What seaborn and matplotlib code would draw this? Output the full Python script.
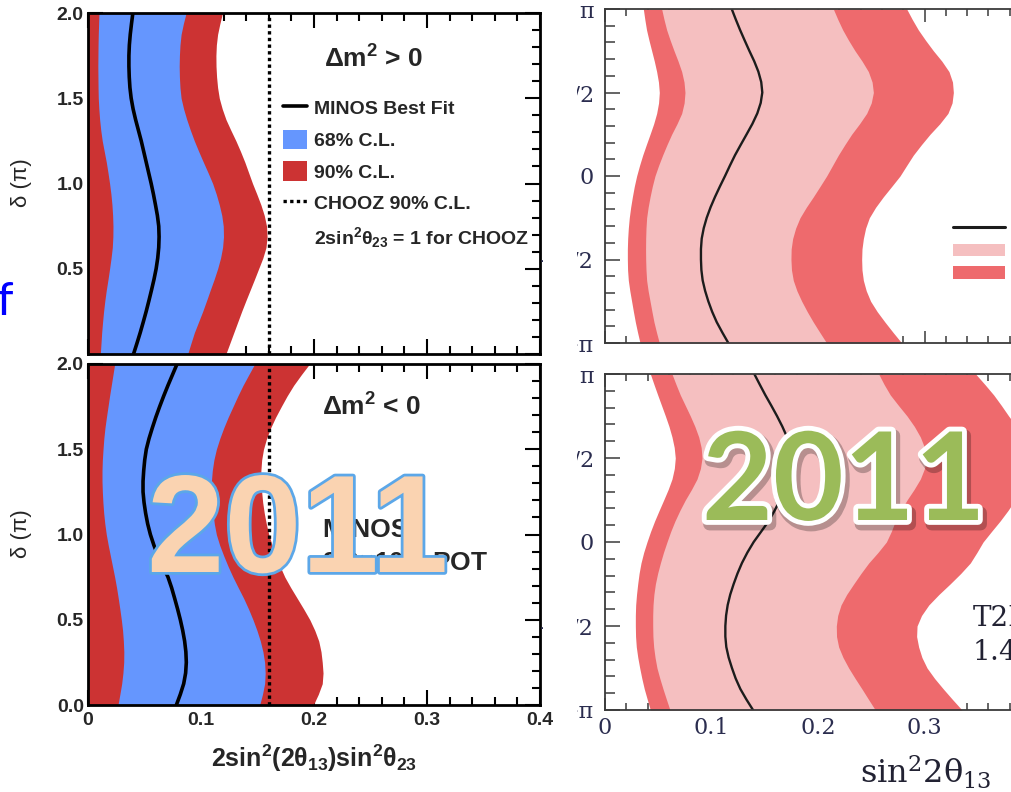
import numpy as np
import matplotlib
matplotlib.use("Agg")
import matplotlib.pyplot as plt
import matplotlib.patheffects as pe
from matplotlib.lines import Line2D
from matplotlib.patches import Patch, Rectangle
from matplotlib.ticker import MultipleLocator
import seaborn as sns

# ---------------- MINOS: delta_CP (units of pi) vs 2 sin^2(2th13) sin^2(th23) ----------------
minos_delta = [2.0, 1.9375, 1.875, 1.8125, 1.75, 1.6875, 1.625, 1.5625, 1.5, 1.4375,
               1.375, 1.3125, 1.25, 1.1875, 1.125, 1.0625, 1.0, 0.9375, 0.875, 0.8125,
               0.75, 0.6875, 0.625, 0.5625, 0.5, 0.4375, 0.375, 0.3125, 0.25, 0.1875,
               0.125, 0.0625, 0.0]

# normal hierarchy (dm2 > 0)
nh_68_lo = [.0097, .0094, .0091, .0089, .0088, .0087, .0088, .0089, .0091, .0096,
            .0103, .0113, .0126, .0144, .0162, .0177, .0191, .0203, .0212, .0218,
            .0221, .0220, .0215, .0204, .0191, .0177, .0162, .0149, .0138, .0129,
            .0121, .0115, .0109]
nh_68_hi = [.0868, .0844, .0824, .0814, .0809, .0807, .0809, .0814, .0824, .0846,
            .0874, .0906, .0941, .0980, .1021, .1063, .1103, .1135, .1162, .1184,
            .1197, .1199, .1191, .1173, .1147, .1116, .1082, .1049, .1015, .0978,
            .0941, .0911, .0882]
nh_90_hi = [.1190, .1167, .1147, .1136, .1132, .1133, .1138, .1147, .1162, .1188,
            .1221, .1264, .1309, .1350, .1388, .1422, .1456, .1494, .1530, .1560,
            .1580, .1585, .1575, .1547, .1510, .1473, .1435, .1397, .1360, .1325,
            .1290, .1255, .1220]
nh_best = [.0397, .0385, .0374, .0366, .0362, .0362, .0365, .0371, .0382, .0399,
           .0421, .0446, .0471, .0493, .0515, .0537, .0559, .0579, .0597, .0614,
           .0626, .0629, .0626, .0617, .0603, .0584, .0562, .0539, .0515, .0489,
           .0462, .0433, .0403]

# inverted hierarchy (dm2 < 0)
ih_68_lo = [.0236, .0221, .0206, .0191, .0177, .0163, .0150, .0140, .0133, .0127,
            .0124, .0124, .0127, .0132, .0139, .0149, .0162, .0179, .0198, .0217,
            .0236, .0253, .0268, .0282, .0295, .0306, .0313, .0317, .0316, .0309,
            .0298, .0282, .0265]
ih_68_hi = [.1475, .1423, .1372, .1326, .1283, .1240, .1201, .1166, .1136, .1114,
            .1100, .1092, .1091, .1096, .1106, .1118, .1136, .1165, .1201, .1240,
            .1283, .1330, .1378, .1421, .1460, .1495, .1525, .1548, .1563, .1568,
            .1563, .1544, .1519]
ih_90_hi = [.1960, .1888, .1820, .1762, .1710, .1660, .1616, .1580, .1553, .1537,
            .1530, .1531, .1537, .1546, .1560, .1578, .1600, .1629, .1663, .1700,
            .1742, .1795, .1852, .1909, .1963, .2007, .2042, .2062, .2073, .2080,
            .2073, .2038, .1994]
ih_best = [.0788, .0748, .0708, .0670, .0634, .0600, .0569, .0540, .0516, .0502,
           .0493, .0487, .0487, .0496, .0510, .0528, .0552, .0583, .0619, .0664,
           .0708, .0740, .0767, .0793, .0817, .0838, .0855, .0866, .0870, .0864,
           .0847, .0817, .0782]

chooz_limit = 0.16

minos_xticks = [0.0, 0.1, 0.2, 0.3, 0.4]
minos_xlabels = ["0", "0.1", "0.2", "0.3", "0.4"]
minos_yticks = [0.0, 0.5, 1.0, 1.5, 2.0]
minos_ylabels = ["0.0", "0.5", "1.0", "1.5", "2.0"]

# ---------------- T2K: delta_CP (units of pi) vs sin^2(2th13) ----------------
t2k_delta = [1.0, 0.9375, 0.875, 0.8125, 0.75, 0.6875, 0.625, 0.5625, 0.5, 0.4375,
             0.375, 0.3125, 0.25, 0.1875, 0.125, 0.0625, 0.0, -0.0625, -0.125,
             -0.1875, -0.25, -0.3125, -0.375, -0.4375, -0.5, -0.5625, -0.625,
             -0.6875, -0.75, -0.8125, -0.875, -0.9375, -1.0]

t2k_nh_90_lo = [.0360, .0374, .0390, .0413, .0438, .0463, .0485, .0502, .0510, .0503,
                .0485, .0457, .0423, .0388, .0354, .0324, .0297, .0275, .0257, .0241,
                .0228, .0219, .0213, .0210, .0210, .0212, .0219, .0233, .0250, .0267,
                .0285, .0306, .0329]
t2k_nh_68_lo = [.0532, .0554, .0579, .0612, .0648, .0686, .0720, .0742, .0751, .0743,
                .0720, .0676, .0626, .0582, .0541, .0503, .0469, .0444, .0423, .0405,
                .0391, .0385, .0382, .0381, .0382, .0385, .0391, .0405, .0423, .0441,
                .0460, .0484, .0510]
t2k_nh_best = [.1190, .1228, .1268, .1311, .1355, .1401, .1440, .1467, .1477, .1462,
               .1430, .1384, .1330, .1275, .1221, .1173, .1127, .1079, .1033, .0991,
               .0955, .0927, .0908, .0901, .0901, .0905, .0917, .0940, .0970, .1006,
               .1049, .1102, .1158]
t2k_nh_68_hi = [.2144, .2186, .2232, .2287, .2347, .2414, .2473, .2508, .2520, .2500,
                .2457, .2390, .2316, .2252, .2191, .2136, .2081, .2019, .1956, .1890,
                .1831, .1790, .1762, .1748, .1746, .1751, .1768, .1802, .1847, .1899,
                .1956, .2018, .2081]
t2k_nh_90_hi = [.2833, .2885, .2942, .3010, .3083, .3163, .3230, .3263, .3271, .3259,
                .3220, .3143, .3052, .2971, .2895, .2832, .2770, .2692, .2613, .2541,
                .2482, .2447, .2426, .2413, .2410, .2413, .2426, .2453, .2494, .2556,
                .2629, .2706, .2786]

t2k_ih_90_lo = [.0426, .0460, .0495, .0531, .0567, .0601, .0629, .0650, .0660, .0651,
                .0629, .0593, .0551, .0508, .0466, .0428, .0394, .0363, .0338, .0320,
                .0307, .0296, .0288, .0285, .0285, .0287, .0294, .0308, .0326, .0346,
                .0369, .0397, .0426]
t2k_ih_68_lo = [.0629, .0667, .0707, .0754, .0801, .0844, .0880, .0903, .0911, .0896,
                .0864, .0812, .0754, .0703, .0657, .0617, .0582, .0549, .0520, .0494,
                .0473, .0459, .0451, .0448, .0448, .0450, .0457, .0470, .0488, .0515,
                .0545, .0577, .0610]
t2k_ih_best = [.1402, .1453, .1505, .1561, .1615, .1665, .1709, .1744, .1765, .1762,
               .1740, .1697, .1643, .1593, .1537, .1467, .1396, .1337, .1286, .1244,
               .1208, .1176, .1152, .1137, .1130, .1130, .1139, .1161, .1192, .1227,
               .1271, .1328, .1390]
t2k_ih_68_hi = [.2570, .2621, .2679, .2756, .2836, .2905, .2961, .3000, .3017, .3000,
                .2961, .2902, .2836, .2778, .2726, .2688, .2642, .2563, .2476, .2403,
                .2335, .2269, .2216, .2185, .2172, .2174, .2194, .2235, .2288, .2349,
                .2413, .2475, .2538]
t2k_ih_90_hi = [.3480, .3567, .3650, .3722, .3790, .3864, .3930, .3977, .4000, .3986,
                .3950, .3906, .3850, .3784, .3710, .3629, .3550, .3492, .3430, .3340,
                .3240, .3135, .3040, .2972, .2930, .2926, .2945, .2976, .3024, .3095,
                .3177, .3263, .3352]

t2k_xticks = [0.0, 0.1, 0.2, 0.3, 0.4]
t2k_xlabels = ["0", "0.1", "0.2", "0.3", "0.4"]
t2k_yticks = [-1.0, -0.5, 0.0, 0.5, 1.0]
t2k_ylabels = ["\u2212\u03c0", "\u2212\u03c0/2", "0", "\u03c0/2", "\u03c0"]

# ---------------- styling ----------------
sns.set_theme(style="ticks")
plt.rcParams["font.family"] = ["Liberation Sans", "DejaVu Sans"]
plt.rcParams["mathtext.fontset"] = "custom"
plt.rcParams["mathtext.rm"] = "Liberation Sans:bold"
plt.rcParams["mathtext.it"] = "Liberation Sans:bold"
plt.rcParams["mathtext.bf"] = "Liberation Sans:bold"

MINOS_BLUE = "#6596FE"
MINOS_RED = "#CC3333"
T2K_PINK = "#F5BFC0"
T2K_RED = "#EE6A6D"
T2K_TEXT = "#2b2d4f"

W, H = 1011, 792
fig = plt.figure(figsize=(W / 100, H / 100), dpi=100)
fig.patch.set_facecolor("white")


def px_axes(x0, y0, x1, y1):
    return fig.add_axes([x0 / W, 1 - y1 / H, (x1 - x0) / W, (y1 - y0) / H])


ax_tl = px_axes(88, 13, 540, 354)
ax_bl = px_axes(88, 364, 540, 705)
ax_tr = px_axes(605, 9, 605 + 426, 343)
ax_br = px_axes(605, 374, 605 + 426, 710)


def draw_minos(ax, lo68, hi68, hi90, best):
    d = np.array(minos_delta)
    ax.fill_betweenx(d, 0.0, hi90, color=MINOS_RED, lw=0, zorder=1)
    ax.fill_betweenx(d, lo68, hi68, color=MINOS_BLUE, lw=0, zorder=1.1)
    sns.lineplot(x=best, y=minos_delta, sort=False, estimator=None,
                 color="black", lw=2.6, ax=ax, zorder=3)
    ax.axvline(chooz_limit, color="black", lw=2.4, ls=(0, (1, 1)), zorder=3)


def style_minos(ax, show_xlabels, show_zero):
    ax.set_xlim(0, 0.4)
    ax.set_ylim(0, 2)
    xl = minos_xlabels if show_xlabels else [""] * len(minos_xticks)
    yl = list(minos_ylabels)
    if not show_zero:
        yl[0] = ""
    ax.set_xticks(minos_xticks, xl, fontweight="bold", fontsize=14)
    ax.set_yticks(minos_yticks, yl, fontweight="bold", fontsize=14)
    ax.xaxis.set_minor_locator(MultipleLocator(0.02))
    ax.yaxis.set_minor_locator(MultipleLocator(0.1))
    ax.tick_params(which="both", direction="in", top=True, right=True,
                   color="black", width=1.5)
    ax.tick_params(which="major", length=11)
    ax.tick_params(which="minor", length=5.5)
    ax.tick_params(axis="y", pad=3)
    ax.tick_params(axis="x", pad=5)
    for s in ax.spines.values():
        s.set_visible(True)
        s.set_linewidth(2.0)
        s.set_color("black")
        s.set_zorder(4)
    ax.set_xlabel("")
    ax.set_ylabel("")


draw_minos(ax_tl, nh_68_lo, nh_68_hi, nh_90_hi, nh_best)
draw_minos(ax_bl, ih_68_lo, ih_68_hi, ih_90_hi, ih_best)
style_minos(ax_tl, False, False)
style_minos(ax_bl, True, True)

# legend of the upper MINOS panel
handles = [
    Line2D([], [], color="black", lw=2.6),
    Patch(facecolor=MINOS_BLUE, edgecolor="none"),
    Patch(facecolor=MINOS_RED, edgecolor="none"),
    Line2D([], [], color="black", lw=2.4, ls=(0, (1, 1))),
    Line2D([], [], color="none", lw=0),
]
labels = ["MINOS Best Fit", "68% C.L.", "90% C.L.", "CHOOZ 90% C.L.",
          r"2sin$^2\theta_{23}$ = 1 for CHOOZ"]
ax_tl.legend(handles, labels, loc="upper left", bbox_to_anchor=(0.431, 0.751),
             frameon=False, borderpad=0, borderaxespad=0,
             prop={"family": "Liberation Sans", "weight": "bold", "size": 14},
             handlelength=1.25, handleheight=1.13, handletextpad=0.35,
             labelspacing=0.6)

ax_tl.text(0.5225, 0.865, r"$\Delta$m$^2$ > 0", transform=ax_tl.transAxes,
           fontsize=19, fontweight="bold", va="center", ha="left")
ax_bl.text(0.5175, 0.875, r"$\Delta$m$^2$ < 0", transform=ax_bl.transAxes,
           fontsize=19, fontweight="bold", va="center", ha="left")
ax_bl.text(0.5175, 0.513, "MINOS", transform=ax_bl.transAxes,
           fontsize=19, fontweight="bold", va="center", ha="left")
ax_bl.text(0.5175, 0.415, r"8.2$\times$10$^{20}$ POT", transform=ax_bl.transAxes,
           fontsize=19, fontweight="bold", va="center", ha="left")

for yc in (183, 534):
    fig.text(21 / W, 1 - yc / H, "\u03b4 (\u03c0)", rotation=90, ha="center",
             va="center", fontsize=16, family="Liberation Sans")
fig.text(314 / W, 1 - 758 / H, r"2sin$^2$(2$\theta_{13}$)sin$^2\theta_{23}$",
         ha="center", va="center", fontsize=18, fontweight="bold")


# ---------------- T2K panels ----------------
def draw_t2k(ax, lo90, lo68, best, hi68, hi90):
    d = np.array(t2k_delta)
    ax.fill_betweenx(d, lo90, hi90, color=T2K_RED, lw=0, zorder=1)
    ax.fill_betweenx(d, lo68, hi68, color=T2K_PINK, lw=0, zorder=1.1)
    sns.lineplot(x=best, y=t2k_delta, sort=False, estimator=None,
                 color="#1c1c1c", lw=1.7, ax=ax, zorder=3)


def style_t2k(ax, show_xlabels):
    ax.set_xlim(0, 0.4)
    ax.set_ylim(-1, 1)
    xl = t2k_xlabels if show_xlabels else [""] * len(t2k_xticks)
    ax.set_xticks(t2k_xticks, xl, family="DejaVu Serif", fontsize=16, color=T2K_TEXT)
    ax.set_yticks(t2k_yticks, t2k_ylabels, family="DejaVu Serif", fontsize=16,
                  color=T2K_TEXT)
    ax.xaxis.set_minor_locator(MultipleLocator(0.02))
    ax.yaxis.set_minor_locator(MultipleLocator(0.1))
    ax.tick_params(which="both", direction="in", top=True, right=False,
                   color="#3a3a3a", width=1.1)
    ax.tick_params(axis="y", which="major", length=11)
    ax.tick_params(axis="y", which="minor", length=7)
    ax.tick_params(axis="x", which="major", length=9)
    ax.tick_params(axis="x", which="minor", length=5)
    ax.tick_params(axis="y", pad=8)
    ax.tick_params(axis="x", pad=5)
    for s in ax.spines.values():
        s.set_visible(True)
        s.set_linewidth(1.3)
        s.set_color("#3a3a3a")
        s.set_zorder(4)
    ax.set_xlabel("")
    ax.set_ylabel("")


draw_t2k(ax_tr, t2k_nh_90_lo, t2k_nh_68_lo, t2k_nh_best, t2k_nh_68_hi, t2k_nh_90_hi)
draw_t2k(ax_br, t2k_ih_90_lo, t2k_ih_68_lo, t2k_ih_best, t2k_ih_68_hi, t2k_ih_90_hi)
style_t2k(ax_tr, False)
style_t2k(ax_br, True)

t2k_handles = [Line2D([], [], color="#1c1c1c", lw=2.2),
               Patch(facecolor=T2K_PINK, edgecolor="none"),
               Patch(facecolor=T2K_RED, edgecolor="none")]
ax_tr.legend(t2k_handles, ["Best fit to T2K data", "68% C.L.", "90% C.L."],
             loc="upper left", bbox_to_anchor=(0.817, 0.368), frameon=False,
             borderpad=0, borderaxespad=0,
             prop={"family": "DejaVu Serif", "size": 12},
             handlelength=3.1, handleheight=0.78, handletextpad=0.6,
             labelspacing=0.33)

ax_br.text(0.345, -0.455, "T2K", fontsize=20, family="DejaVu Serif",
           color="#222233", va="center", ha="left")
ax_br.text(0.345, -0.66, r"1.43$\times$10$^{20}$ POT", fontsize=20,
           family="DejaVu Serif", color="#222233", va="center", ha="left",
           math_fontfamily="dejavuserif")

fig.text(926 / W, 1 - 772 / H, "sin$^2$2\u03b8$_{13}$", ha="center", va="center",
         fontsize=23, family="DejaVu Serif", color="#222233",
         math_fontfamily="dejavuserif")

# the right-hand figure is cut on its left edge
fig.patches.append(Rectangle((543 / W, 1 - 700 / H), 34 / W, 700 / H,
                             transform=fig.transFigure, facecolor="white",
                             edgecolor="none", zorder=5))
fig.patches.append(Rectangle((557 / W, 0), 20 / W, 1 - 698 / H,
                             transform=fig.transFigure, facecolor="white",
                             edgecolor="none", zorder=5))

# ---------------- "2011" stamps ----------------
fig.text(147 / W, 1 - 572 / H, "2011", fontsize=100, fontweight="bold",
         family="Liberation Sans", color="#FAD3B1", ha="left", va="baseline",
         zorder=10,
         path_effects=[pe.Stroke(linewidth=4.0, foreground="#5CA7E8"), pe.Normal()])
fig.text(702 / W, 1 - 520 / H, "2011", fontsize=88, fontweight="bold",
         family="Lato", color="#9BBB59", ha="left", va="baseline", zorder=10,
         path_effects=[pe.Stroke(linewidth=9, foreground="black", alpha=0.25,
                                 offset=(2, -3)),
                       pe.Stroke(linewidth=7, foreground="white"), pe.Normal()])

# stray slide text on the far left
fig.text(-3 / W, 1 - 315 / H, "f", fontsize=34, family="Lato", color="#0000FF",
         ha="left", va="baseline")

fig.savefig("out.png", dpi=100)
